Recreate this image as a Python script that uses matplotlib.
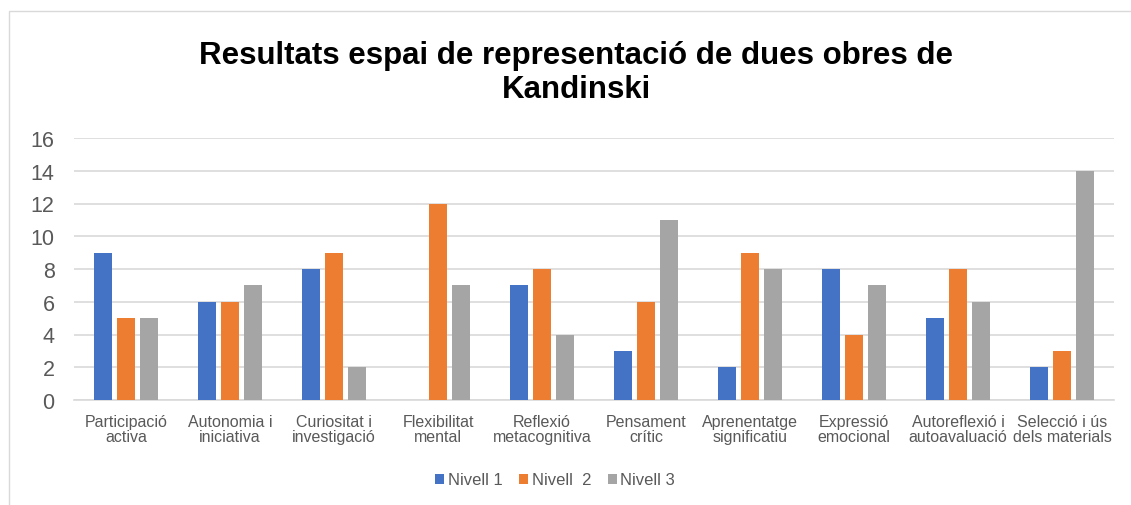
import matplotlib
matplotlib.use("Agg")
import numpy as np
import matplotlib.pyplot as plt
from matplotlib.patches import Rectangle

plt.rcParams["font.family"] = ["Liberation Sans", "DejaVu Sans"]

categories = [
    "Participació\nactiva", "Autonomia i\niniciativa", "Curiositat i\ninvestigació",
    "Flexibilitat\nmental", "Reflexió\nmetacognitiva", "Pensament\ncrític",
    "Aprenentatge\nsignificatiu", "Expressió\nemocional", "Autoreflexió i\nautoavaluació",
    "Selecció i ús\ndels materials",
]
nivell_1 = [9, 6, 8, 0, 7, 3, 2, 8, 5, 2]
nivell_2 = [5, 6, 9, 12, 8, 6, 9, 4, 8, 3]
nivell_3 = [5, 7, 2, 7, 4, 11, 8, 7, 6, 14]
series_names = ["Nivell 1", "Nivell  2", "Nivell 3"]
colors = ["#4472C4", "#ED7D31", "#A5A5A5"]
y_ticks = [0, 2, 4, 6, 8, 10, 12, 14, 16]

W, H = 1131, 506
fig = plt.figure(figsize=(W / 100, H / 100), dpi=100)

# chart frame (only left and top edges are visible in the crop)
fig.patches.append(Rectangle((9 / W, -0.1), 1.2, 1 - 12 / H + 0.1, transform=fig.transFigure,
                             fill=False, edgecolor="#D9D9D9", linewidth=1.0))

ax = fig.add_axes([74 / W, 1 - 401 / H, (1114 - 74) / W, (401 - 139) / H])

x = np.arange(len(categories))
width = 0.173
step = 0.221
bars = []
for i, (vals, name, c) in enumerate(zip([nivell_1, nivell_2, nivell_3], series_names, colors)):
    b = ax.bar(x + (i - 1) * step, vals, width, color=c, label=name, zorder=3)
    bars.append(b)

ax.set_xlim(-0.5, len(categories) - 0.5)
ax.set_ylim(0, 16)
ax.set_yticks(y_ticks)
ax.set_xticks(x)
ax.set_xticklabels(categories, fontsize=11.5, color="#595959", linespacing=1.05)
ax.tick_params(axis="y", labelsize=15.5, labelcolor="#595959", length=0, pad=14)
ax.tick_params(axis="x", length=0, pad=10)
ax.grid(axis="y", color="#D9D9D9", linewidth=1.2, zorder=0)
for s in ["top", "right", "left"]:
    ax.spines[s].set_visible(False)
ax.spines["bottom"].set_color("#D9D9D9")
ax.spines["bottom"].set_linewidth(1.2)

fig.text(576 / W, 1 - 41 / H, "Resultats espai de representació de dues obres de\nKandinski",
         ha="center", va="top", fontsize=22.5, fontweight="bold", color="black",
         linespacing=1.17, transform=fig.transFigure)

fig.legend(handles=bars, labels=series_names, loc="center", bbox_to_anchor=(555 / W, 1 - 481 / H),
           ncol=3, frameon=False, fontsize=12, handlelength=0.55, handleheight=0.55,
           handletextpad=0.2, columnspacing=1.0, labelcolor="#595959")

fig.savefig("out.png", dpi=100)
